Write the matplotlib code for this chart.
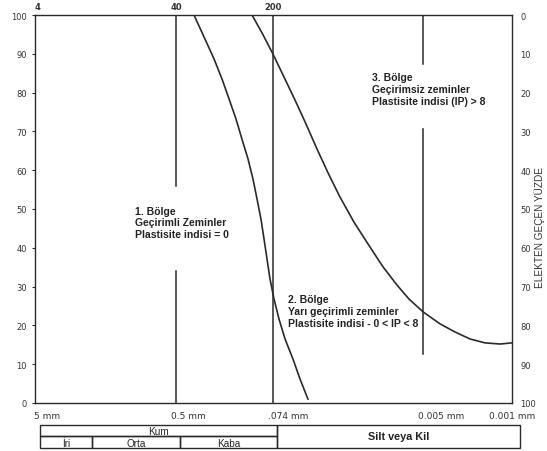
import matplotlib
matplotlib.use("Agg")
import matplotlib.pyplot as plt
import matplotlib.transforms as mtransforms
from matplotlib.patches import Rectangle

# ---------------- data ----------------
# particle diameters (mm) and percent passing
curve1_d = [0.3078, 0.2525, 0.2147, 0.1858, 0.1638, 0.1444, 0.1297, 0.1163, 0.1063,
            0.0989, 0.0921, 0.0872, 0.0826, 0.0783, 0.0728, 0.0665, 0.0597, 0.0517,
            0.0456, 0.0395]
curve1_p = [100, 93.8, 88.7, 83.5, 78.4, 73.2, 68.0, 62.9, 57.7,
            52.6, 47.4, 42.3, 37.1, 32.0, 26.8, 21.6, 16.5, 11.3,
            6.2, 1.0]

curve2_d = [0.1082, 0.0904, 0.0741, 0.0608, 0.0499, 0.0409, 0.0336, 0.0275, 0.0222,
            0.01723, 0.01292, 0.01022, 0.00794, 0.00640, 0.00497, 0.00366, 0.00279,
            0.00213, 0.00163, 0.00124, 0.001]
curve2_p = [100, 95.4, 89.9, 84.0, 78.1, 71.9, 65.5, 59.3, 53.1,
            46.6, 40.2, 35.1, 30.4, 26.8, 23.5, 20.4, 18.3,
            16.5, 15.5, 15.2, 15.5]

# vertical boundary lines: diameter and drawn (y_from, y_to) segments
boundary_d = [0.425, 0.074, 0.005]
boundary_segments = [[(100, 55.9), (34.0, 0)],
                     [(100, 0)],
                     [(100, 87.4), (70.6, 12.6)]]

sieve_labels = ["4", "40", "200"]
sieve_d = [5.2, 0.425, 0.074]

size_tick_d = [5, 0.425, 0.074, 0.005, 0.001]
size_tick_labels = ["5 mm", "0.5 mm", ".074 mm", "0.005 mm", "0.001 mm"]

y_ticks = list(range(0, 101, 10))

zone_d = [0.89, 0.0565, 0.0125]
zone_p = [50.8, 28.0, 85.2]
zone_labels = ["1. Bölge\nGeçirimli Zeminler\nPlastisite indisi = 0",
               "2. Bölge\nYarı geçirimli zeminler\nPlastisite indisi - 0 < IP < 8",
               "3. Bölge\nGeçirimsiz zeminler\nPlastisite indisi (IP) > 8"]

# soil classes (bottom table): name, d_from, d_to
sand_sub = [("İri", 4.94, 1.936), ("Orta", 1.936, 0.396), ("Kaba", 0.396, 0.069)]
sand_range = ("Kum", 4.94, 0.069)
fines_range = ("Silt veya Kil", 0.069, 0.000866)

# ---------------- figure ----------------
W, H = 547, 452
fig = plt.figure(figsize=(W / 100, H / 100), dpi=100)
fig.patch.set_facecolor("white")

XMAX, XMIN = 5.4, 0.001
L, R, T, B = 35, 512, 16, 404
ax = fig.add_axes([L / W, 1 - B / H, (R - L) / W, (B - T) / H])
ax.set_xscale("log")
ax.set_xlim(XMAX, XMIN)
ax.set_ylim(0, 100)
ax.minorticks_off()

lc = "#2a2a2a"
for s in ax.spines.values():
    s.set_color(lc)
    s.set_linewidth(1.0)

ax.plot(curve1_d, curve1_p, color=lc, lw=1.2, solid_joinstyle="round")
ax.plot(curve2_d, curve2_p, color=lc, lw=1.2, solid_joinstyle="round")

for d, segs in zip(boundary_d, boundary_segments):
    for y0, y1 in segs:
        ax.plot([d, d], [y0, y1], color=lc, lw=1.1)

ax.set_yticks(y_ticks)
ax.set_yticklabels([str(v) for v in y_ticks], fontsize=6, color="#333333")
ax.tick_params(axis="y", length=2, pad=4, color=lc)
ax.set_xticks([])

# bottom size labels
trans_b = mtransforms.blended_transform_factory(ax.transData, ax.transAxes)
shift = mtransforms.ScaledTranslation(-5 / 100, 0, fig.dpi_scale_trans)
for i, (d, lab) in enumerate(zip(size_tick_d, size_tick_labels)):
    last = i == len(size_tick_d) - 1
    ax.text(d, -0.02, lab, transform=trans_b if last else trans_b + shift,
            ha="center" if last else "left", va="top",
            fontsize=6.5, color="#333333", clip_on=False,
            fontfamily="DejaVu Sans")

# right axis (retained percent)
axr = ax.twinx()
axr.set_ylim(100, 0)
axr.set_yticks(y_ticks)
axr.set_yticklabels([str(v) for v in y_ticks], fontsize=6, color="#333333")
axr.tick_params(axis="y", length=0, pad=6)
for s in axr.spines.values():
    s.set_visible(False)
fig.text(540 / W, 1 - 228 / H, "ELEKTEN GEÇEN YÜZDE", rotation=90,
         ha="center", va="center", fontsize=7.2, color="#333333",
         fontfamily="Liberation Sans")

# top axis (sieve numbers)
axt = ax.twiny()
axt.set_xscale("log")
axt.set_xlim(XMAX, XMIN)
axt.minorticks_off()
axt.set_xticks(sieve_d)
axt.set_xticklabels(sieve_labels, fontsize=6, color="#333333", fontweight="bold")
axt.tick_params(axis="x", length=0, pad=3)
for s in axt.spines.values():
    s.set_visible(False)

# zone annotations
for d, p, txt in zip(zone_d, zone_p, zone_labels):
    ax.text(d, p, txt, ha="left", va="top", fontsize=7.5, fontweight="bold",
            color="#222222", linespacing=1.2, fontfamily="Liberation Sans")

# bottom classification table
tb_top, tb_bot = 425.5, 449
tax = fig.add_axes([L / W, 1 - tb_bot / H, (R - L) / W, (tb_bot - tb_top) / H])
tax.set_xscale("log")
tax.set_xlim(XMAX, XMIN)
tax.set_ylim(0, 2)
tax.axis("off")
ec = "#2a2a2a"
name, d0, d1 = sand_range
tax.add_patch(Rectangle((d0, 1), d1 - d0, 1, fill=False, ec=ec, lw=1.0, clip_on=False))
tax.text((d0 * d1) ** 0.5, 1.45, name, ha="center", va="center", fontsize=7.2,
         fontfamily="Liberation Sans", color="#222222")
for name, d0, d1 in sand_sub:
    tax.add_patch(Rectangle((d0, 0), d1 - d0, 1, fill=False, ec=ec, lw=1.0, clip_on=False))
    tax.text((d0 * d1) ** 0.5, 0.45, name, ha="center", va="center", fontsize=7.2,
             fontfamily="Liberation Sans", color="#222222")
name, d0, d1 = fines_range
tax.add_patch(Rectangle((d0, 0), d1 - d0, 2, fill=False, ec=ec, lw=1.0, clip_on=False))
tax.text((d0 * d1) ** 0.5, 1.0, name, ha="center", va="center", fontsize=7.8,
         fontweight="bold", fontfamily="Liberation Sans", color="#222222")

fig.savefig("out.png", dpi=100, facecolor="white")
